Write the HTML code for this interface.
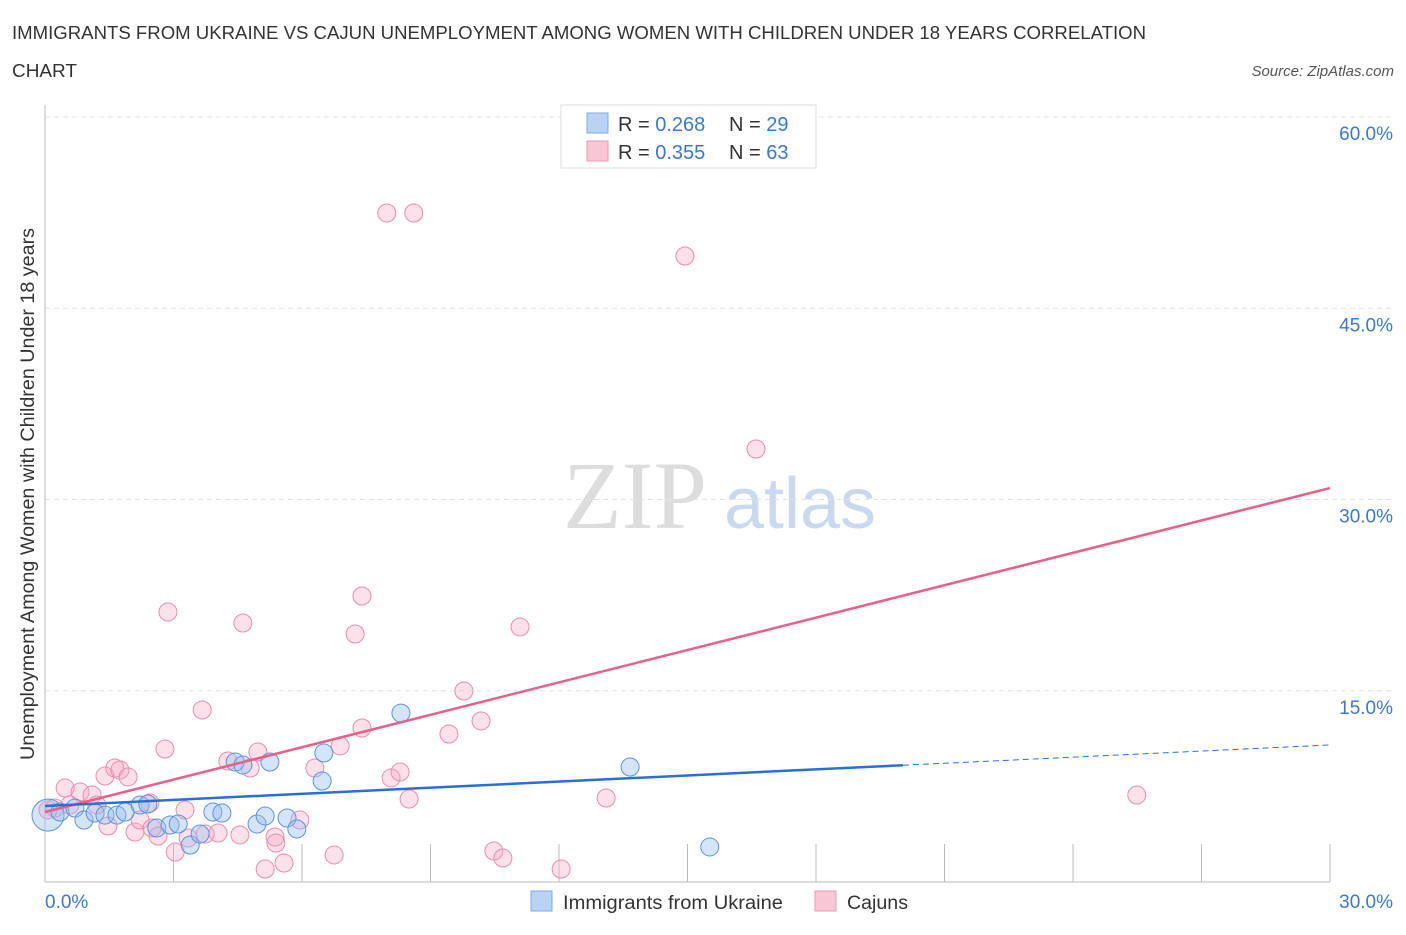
<!DOCTYPE html>
<html><head><meta charset="utf-8"><style>
body{margin:0;background:#fff;font-family:"Liberation Sans",sans-serif;}
svg text{font-family:"Liberation Sans",sans-serif;}
</style></head><body>
<svg id="chart" width="1406" height="930" xmlns="http://www.w3.org/2000/svg">
<text x="12" y="39" font-size="18" fill="#333" textLength="1134" lengthAdjust="spacingAndGlyphs">IMMIGRANTS FROM UKRAINE VS CAJUN UNEMPLOYMENT AMONG WOMEN WITH CHILDREN UNDER 18 YEARS CORRELATION</text>
<text x="12" y="77" font-size="18" fill="#333" textLength="65" lengthAdjust="spacingAndGlyphs">CHART</text>
<text x="1394" y="76" font-size="15" fill="#555" text-anchor="end" font-style="italic">Source: ZipAtlas.com</text>
<text x="635" y="528" font-size="96" fill="#ddd" text-anchor="middle" style="font-family:'Liberation Serif',serif">ZIP</text>
<text x="800" y="528" font-size="72" fill="#c9daf0" text-anchor="middle">atlas</text>
<g id="grid"></g>
<g id="axes"></g>
<g id="marks"></g>
<text transform="translate(34,494) rotate(-90)" font-size="19" fill="#333" text-anchor="middle" textLength="532" lengthAdjust="spacingAndGlyphs">Unemployment Among Women with Children Under 18 years</text>
<g>
<rect x="561" y="105" width="255" height="63" fill="#fff" stroke="#ddd"/>
<rect x="587" y="113" width="21" height="20" fill="#b9d3f5" stroke="#7faae6"/>
<rect x="587" y="141" width="21" height="20" fill="#f9c6d5" stroke="#ec9ab4"/>
<text x="618" y="131" font-size="20" fill="#333">R = <tspan fill="#3b78d0">0.268</tspan></text>
<text x="729" y="131" font-size="20" fill="#333">N = <tspan fill="#3b78d0">29</tspan></text>
<text x="618" y="159" font-size="20" fill="#333">R = <tspan fill="#3b78d0">0.355</tspan></text>
<text x="729" y="159" font-size="20" fill="#333">N = <tspan fill="#3b78d0">63</tspan></text>
</g>
<g>
<rect x="531" y="891" width="21" height="20" fill="#b9d3f5" stroke="#7faae6"/>
<text x="563" y="909" font-size="19" fill="#333" textLength="220" lengthAdjust="spacingAndGlyphs">Immigrants from Ukraine</text>
<rect x="815" y="891" width="21" height="20" fill="#f9c6d5" stroke="#ec9ab4"/>
<text x="847" y="909" font-size="19" fill="#333" textLength="61" lengthAdjust="spacingAndGlyphs">Cajuns</text>
</g>
</svg>
<script>
const yTicks=[15,30,45,60];
const yTickLabels=["15.0%","30.0%","45.0%","60.0%"];
const xTickCount=11;
const blueX=[0.07,0.35,0.70,0.91,1.17,1.40,1.68,1.87,2.22,2.40,2.61,2.92,3.11,3.39,3.62,3.92,4.13,4.44,4.62,4.95,5.14,5.25,5.65,5.88,6.51,6.47,8.31,13.66,15.52];
const blueY=[5.25,5.49,5.80,4.86,5.41,5.25,5.25,5.49,6.04,6.12,4.24,4.47,4.55,2.90,3.76,5.49,5.41,9.41,9.18,4.55,5.18,9.41,5.02,4.16,10.12,7.92,13.25,9.02,2.75];
const pinkX=[0.07,0.23,0.47,0.58,0.82,1.10,1.21,1.40,1.47,1.63,1.75,1.94,2.10,2.22,2.45,2.50,2.64,2.80,2.87,3.04,3.27,3.34,3.67,3.74,4.04,4.27,4.55,4.62,4.79,4.97,5.14,5.37,5.39,5.58,5.95,6.30,6.75,6.89,7.24,7.40,7.40,7.98,8.08,8.29,8.50,8.61,9.43,9.78,10.18,10.48,10.69,11.09,12.05,13.10,14.94,16.60,25.49];
const pinkY=[5.65,5.80,7.37,6.04,7.06,6.82,6.04,8.31,4.39,8.94,8.78,8.24,3.92,4.86,6.20,4.24,3.61,10.43,21.18,2.35,5.65,3.45,13.49,3.76,3.84,9.49,3.69,20.31,8.94,10.20,1.02,3.53,3.06,1.49,4.86,8.94,2.12,10.67,19.45,22.43,12.08,52.47,8.16,8.63,6.51,52.47,11.61,14.98,12.63,2.43,1.88,20.00,1.02,6.59,49.10,33.96,6.82];
const pinkTrend=[5.49,30.9];
const blueTrend=[5.96,10.75];
const blueSolidEnd=20.03;

const NS="http://www.w3.org/2000/svg";
const X0=45,X1=1330,Y0=882,PPU=12.75;
const sx=v=>X0+(v/30)*(X1-X0);
const sy=v=>Y0-v*PPU;
function mk(tag,attrs,parent){const e=document.createElementNS(NS,tag);for(const k in attrs)e.setAttribute(k,attrs[k]);parent.appendChild(e);return e;}
const grid=document.getElementById('grid'),axes=document.getElementById('axes'),marks=document.getElementById('marks');
yTicks.forEach((t,i)=>{
 const l=mk('line',{x1:X0,x2:X1+62,y1:sy(t),y2:sy(t),stroke:'#e2e2e2','stroke-dasharray':'5,4'},grid);
 
 
 const tx=mk('text',{x:1393,y:sy(t)+23,'font-size':19,fill:'#3b78d0','text-anchor':'end'},axes);
 tx.textContent=yTickLabels[i];
 
 
});
const ya=mk('line',{x1:X0,x2:X0,y1:105,y2:Y0,stroke:'#bbb'},axes);


const xa=mk('line',{x1:X0,x2:X1,y1:Y0,y2:Y0,stroke:'#bbb'},axes);


for(let i=0;i<xTickCount;i++){
 const t=mk('line',{x1:sx(i*3),x2:sx(i*3),y1:Y0,y2:Y0-38,stroke:'#bbb'},axes);
 
 
}
const xl0=mk('text',{x:45,y:908,'font-size':19,fill:'#3b78d0'},axes);xl0.textContent='0.0%';


const xl1=mk('text',{x:1393,y:908,'font-size':19,fill:'#3b78d0','text-anchor':'end'},axes);xl1.textContent='30.0%';



pinkX.forEach((x,i)=>{
 const c=mk('circle',{cx:sx(x),cy:sy(pinkY[i]),r:9,fill:'rgba(245,170,195,0.35)',stroke:'#e98cab','stroke-width':1},marks);
 
 
});
blueX.forEach((x,i)=>{
 const c=mk('circle',{cx:sx(x),cy:sy(blueY[i]),r:i===0?16:9,fill:'rgba(150,190,240,0.4)',stroke:'#5d92dc','stroke-width':1},marks);
 
 
});
const pl=mk('line',{x1:sx(0),y1:sy(pinkTrend[0]),x2:sx(30),y2:sy(pinkTrend[1]),stroke:'#e8608a','stroke-width':2.5},marks);


const bAt=v=>blueTrend[0]+(blueTrend[1]-blueTrend[0])*v/30;
const bl=mk('line',{x1:sx(0),y1:sy(bAt(0)),x2:sx(blueSolidEnd),y2:sy(bAt(blueSolidEnd)),stroke:'#2a6fd6','stroke-width':2.5},marks);


const bd=mk('line',{x1:sx(blueSolidEnd),y1:sy(bAt(blueSolidEnd)),x2:sx(30),y2:sy(bAt(30)),stroke:'#2a6fd6','stroke-width':1,'stroke-dasharray':'6,4'},marks);


</script>
</body></html>
